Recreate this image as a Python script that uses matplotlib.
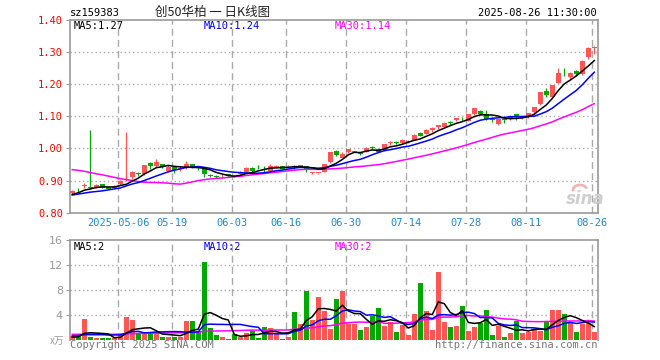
"""Daily K-line chart of sz159383 with MA5/10/30 and a volume panel."""

import matplotlib

matplotlib.use("Agg")
import matplotlib.pyplot as plt
from matplotlib.patches import Arc
import numpy as np
import pandas as pd

HOLIDAYS = ["2025-05-01", "2025-05-02", "2025-05-05", "2025-06-02"]
dates = [d for d in pd.bdate_range("2025-04-21", "2025-08-26")
         if d.strftime("%Y-%m-%d") not in HOLIDAYS]

opens = [0.860, 0.877, 0.883, 0.879, 0.878, 0.888, 0.880, 0.878, 0.890, 0.902,
         0.910, 0.923, 0.922, 0.955, 0.945, 0.951, 0.930, 0.943, 0.937, 0.938,
         0.951, 0.940, 0.941, 0.917, 0.914, 0.913, 0.919, 0.915, 0.920, 0.926,
         0.940, 0.943, 0.937, 0.931, 0.943, 0.944, 0.945, 0.945, 0.943, 0.944,
         0.925, 0.924, 0.928, 0.959, 0.992, 0.971, 0.988, 0.989, 0.986, 0.990,
         1.005, 0.999, 0.995, 1.017, 1.019, 1.016, 1.021, 1.027, 1.047, 1.046,
         1.057, 1.066, 1.068, 1.081, 1.089, 1.093, 1.086, 1.107, 1.116, 1.107,
         1.092, 1.076, 1.092, 1.091, 1.107, 1.096, 1.097, 1.115, 1.138, 1.179,
         1.161, 1.205, 1.233, 1.223, 1.240, 1.232, 1.284, 1.314]
highs = [0.870, 0.878, 0.891, 1.057, 0.889, 0.889, 0.881, 0.886, 0.902, 1.052,
         0.930, 0.928, 0.950, 0.958, 0.966, 0.953, 0.950, 0.945, 0.945, 0.960,
         0.953, 0.946, 0.943, 0.920, 0.918, 0.920, 0.921, 0.917, 0.929, 0.942,
         0.941, 0.947, 0.946, 0.951, 0.948, 0.945, 0.947, 0.948, 0.948, 0.945,
         0.926, 0.925, 0.953, 0.989, 0.996, 0.990, 0.999, 0.992, 0.988, 1.004,
         1.008, 1.000, 1.015, 1.022, 1.024, 1.029, 1.027, 1.046, 1.050, 1.060,
         1.066, 1.074, 1.081, 1.087, 1.096, 1.097, 1.108, 1.126, 1.119, 1.120,
         1.098, 1.092, 1.093, 1.103, 1.108, 1.099, 1.111, 1.129, 1.177, 1.188,
         1.199, 1.250, 1.250, 1.238, 1.245, 1.274, 1.315, 1.318]
lows = [0.858, 0.865, 0.876, 0.874, 0.876, 0.876, 0.873, 0.876, 0.886, 0.898,
        0.905, 0.915, 0.918, 0.935, 0.942, 0.940, 0.928, 0.925, 0.930, 0.936,
        0.938, 0.933, 0.911, 0.910, 0.908, 0.908, 0.913, 0.910, 0.918, 0.924,
        0.926, 0.936, 0.926, 0.929, 0.938, 0.935, 0.944, 0.936, 0.941, 0.928,
        0.921, 0.920, 0.926, 0.954, 0.976, 0.969, 0.985, 0.988, 0.980, 0.988,
        0.995, 0.988, 0.993, 1.012, 1.013, 1.014, 1.018, 1.025, 1.038, 1.044,
        1.050, 1.060, 1.066, 1.072, 1.087, 1.086, 1.084, 1.105, 1.105, 1.088,
        1.083, 1.074, 1.080, 1.090, 1.088, 1.092, 1.095, 1.108, 1.136, 1.160,
        1.160, 1.203, 1.225, 1.215, 1.225, 1.230, 1.280, 1.293]
closes = [0.868, 0.876, 0.885, 0.876, 0.887, 0.878, 0.875, 0.884, 0.899, 0.906,
          0.928, 0.921, 0.948, 0.946, 0.958, 0.942, 0.942, 0.933, 0.939, 0.952,
          0.940, 0.938, 0.922, 0.915, 0.912, 0.915, 0.915, 0.912, 0.927, 0.940,
          0.931, 0.941, 0.935, 0.946, 0.945, 0.936, 0.946, 0.943, 0.947, 0.936,
          0.926, 0.925, 0.951, 0.988, 0.980, 0.984, 0.998, 0.990, 0.984, 1.002,
          1.003, 0.990, 1.013, 1.018, 1.017, 1.027, 1.023, 1.042, 1.040, 1.058,
          1.065, 1.073, 1.080, 1.079, 1.094, 1.091, 1.107, 1.125, 1.107, 1.092,
          1.090, 1.091, 1.090, 1.101, 1.097, 1.097, 1.110, 1.128, 1.176, 1.166,
          1.198, 1.234, 1.231, 1.236, 1.231, 1.273, 1.312, 1.316]
volume = [0.7, 0.7, 3.4, 0.6, 0.4, 0.4, 0.3, 0.4, 0.85, 3.7,
          3.25, 1.0, 1.0, 1.1, 1.3, 0.6, 0.6, 0.6, 0.6, 3.1,
          3.1, 1.5, 12.5, 2.0, 0.9, 0.55, 0.27, 0.95, 0.6, 1.2,
          1.5, 0.4, 2.2, 1.9, 1.0, 0.27, 0.6, 4.5, 2.55, 7.9,
          3.3, 7.0, 4.7, 1.8, 6.6, 7.9, 2.55, 2.6, 1.65, 2.1,
          3.95, 5.2, 2.3, 2.9, 1.33, 2.45, 0.85, 4.2, 9.2, 4.7,
          1.65, 10.9, 2.9, 2.1, 2.3, 5.5, 1.5, 2.1, 2.7, 4.8,
          0.85, 2.3, 0.53, 1.2, 3.15, 1.2, 1.4, 1.75, 1.5, 2.9,
          4.85, 4.85, 4.2, 2.9, 1.33, 2.6, 2.8, 1.33]

# the window starts after the listing, so the first MA points depend on
# older bars; those are read off the chart instead
ma5_head = [0.857, 0.862, 0.870, 0.874]
ma10_head = [0.855, 0.858, 0.861, 0.864, 0.866, 0.868, 0.871, 0.874, 0.877]
ma30_head = [0.934, 0.932, 0.929, 0.925, 0.921, 0.918, 0.914, 0.910, 0.906, 0.903,
             0.900, 0.897, 0.895, 0.894, 0.894, 0.893, 0.892, 0.890, 0.889, 0.892,
             0.896, 0.900, 0.903, 0.905, 0.907, 0.908, 0.910, 0.912, 0.913]
vma5_head = [0.5, 0.55, 1.1, 1.2]
vma10_head = [0.7, 0.75, 0.9, 0.9, 0.9, 0.9, 0.85, 0.85, 0.85]
vma30_head = [0.96] * 8 + [1.0, 1.03, 1.06, 1.1, 1.12, 1.14, 1.16, 1.17, 1.18, 1.19,
                           1.2, 1.22, 1.25, 1.27, 1.45, 1.48, 1.5, 1.51, 1.52, 1.54,
                           1.56]
# the volume legend on the chart reads 2 / 2 / 2
vol_ma_labels = [2, 2, 2]

tick_dates = ["2025-05-06", "2025-05-19", "2025-06-03", "2025-06-16", "2025-06-30",
              "2025-07-14", "2025-07-28", "2025-08-11", "2025-08-26"]

RED = "#ff5555"
GREEN = "#00a800"
GRID = "#aaaaaa"
MONO = "DejaVu Sans Mono"
W, H = 660, 360


def ma(values, n, head):
    s = pd.Series(values, dtype=float).rolling(n).mean().to_numpy()
    s[:len(head)] = head
    return s


def px(x, y):
    return x / W, 1 - y / H


def main():
    assert len(dates) == len(closes) == len(opens) == len(volume) == 88
    o, h, l, c = (np.array(a) for a in (opens, highs, lows, closes))
    vol = np.array(volume)
    x = np.arange(len(c))
    cols = np.where(c >= o, RED, GREEN)
    day = [d.strftime("%Y-%m-%d") for d in dates]
    tpos = [day.index(t) - 0.3 for t in tick_dates]
    tlab = [tick_dates[0]] + [t[5:] for t in tick_dates[1:]]

    fig = plt.figure(figsize=(W / 100, H / 100), dpi=100)
    ax = fig.add_axes([70 / W, 1 - 212.7 / H, 527.7 / W, 192.7 / H])
    av = fig.add_axes([70 / W, 1 - 340.3 / H, 527.7 / W, 100 / H])

    for a in (ax, av):
        a.set_xlim(-0.38, 87.57)
        for s in a.spines.values():
            s.set_color("#999999")
            s.set_linewidth(1.2)
        for t in tpos:
            a.axvline(t, color=GRID, ls=(0, (5, 3)), lw=1, zorder=1)
    av.spines["bottom"].set_visible(False)

    # price panel
    ax.set_ylim(0.80, 1.40)
    for y in np.arange(0.9, 1.35, 0.1):
        ax.axhline(y, color=GRID, ls=(0, (1, 2)), lw=1, zorder=1)
    ax.vlines(x, l, h, colors=cols, lw=0.9, zorder=3)
    ax.bar(x, np.maximum(np.abs(c - o), 0.0018), bottom=np.minimum(o, c),
           width=0.78, color=cols, lw=0, zorder=3)
    m5, m10, m30 = ma(c, 5, ma5_head), ma(c, 10, ma10_head), ma(c, 30, ma30_head)
    ax.plot(x, m30, color="#ff00ff", lw=1.1, zorder=4)
    ax.plot(x, m10, color="#0000ff", lw=1.1, zorder=4)
    ax.plot(x, m5, color="black", lw=1.1, zorder=4)

    ax.set_yticks(np.arange(0.8, 1.41, 0.1))
    ax.set_yticklabels([f"{v:.2f}" for v in np.arange(0.8, 1.41, 0.1)],
                       color="red", family=MONO, fontsize=7.5)
    ax.tick_params(axis="y", length=3, width=0.8, color="#999999", pad=2)
    ax.set_xticks(tpos)
    ax.set_xticklabels(tlab, color="#1e88d0", family=MONO, fontsize=7.5)
    ax.tick_params(axis="x", length=0, pad=4)

    # volume panel
    av.set_ylim(0, 16)
    for y in (4, 8, 12):
        av.axhline(y, color=GRID, ls=(0, (1, 2)), lw=1, zorder=1)
    av.bar(x, vol, width=0.78, color=cols, lw=0, zorder=3)
    v5, v10, v30 = ma(vol, 5, vma5_head), ma(vol, 10, vma10_head), ma(vol, 30, vma30_head)
    av.plot(x, v30, color="#ff00ff", lw=1.1, zorder=4)
    av.plot(x, v10, color="#0000ff", lw=1.1, zorder=4)
    av.plot(x, v5, color="black", lw=1.1, zorder=4)
    av.set_yticks([4, 8, 12, 16])
    av.set_yticklabels(["4", "8", "12", "16"], color="#999999", fontsize=8)
    av.tick_params(axis="y", length=3, width=0.8, color="#999999", pad=2)
    av.set_xticks([])

    # header and legends
    t = dict(family=MONO, fontsize=7.5, va="center")
    fig.text(*px(70, 13), "sz159383", ha="left", color="black", **t)
    fig.text(*px(597, 13), "2025-08-26 11:30:00", ha="right", color="black", **t)
    fig.text(*px(213, 12), "创50华柏 一 日K线图", ha="center", va="center",
             family=["Noto Sans CJK SC", "DejaVu Sans"], fontsize=9, color="#222222")
    for xp, lab, val, col in [(74, "MA5", m5[-1], "black"),
                              (204, "MA10", m10[-1], "#0000ff"),
                              (334.7, "MA30", m30[-1], "#ff00ff")]:
        fig.text(*px(xp, 26), f"{lab}:{val:.2f}", ha="left", color=col, **t)
    for xp, lab, val, col in zip((74, 204, 334.7), ("MA5", "MA10", "MA30"),
                                 vol_ma_labels, ("black", "#0000ff", "#ff00ff")):
        fig.text(*px(xp, 246.5), f"{lab}:{val}", ha="left", color=col, **t)

    fig.text(*px(64, 341), "x万", ha="right", va="center", color="#999999",
             family=["Noto Sans CJK SC", "DejaVu Sans"], fontsize=7, style="italic")
    fig.text(*px(70, 345.5), "Copyright 2025 SINA.COM", ha="left", color="#777777", **t)
    fig.text(*px(597, 345.5), "http://finance.sina.com.cn", ha="right", color="#777777", **t)

    # sina watermark
    fig.text(*px(566, 199), "sina", ha="left", va="center", color="#cfcfcf",
             fontsize=12, fontweight="bold", style="italic", zorder=2)
    fig.patches.append(Arc(px(580, 190), 14 / W, 10 / H, theta1=20, theta2=200,
                           transform=fig.transFigure, color="#f2b5b5", lw=2))

    fig.savefig("out.png", dpi=100)


if __name__ == "__main__":
    main()
